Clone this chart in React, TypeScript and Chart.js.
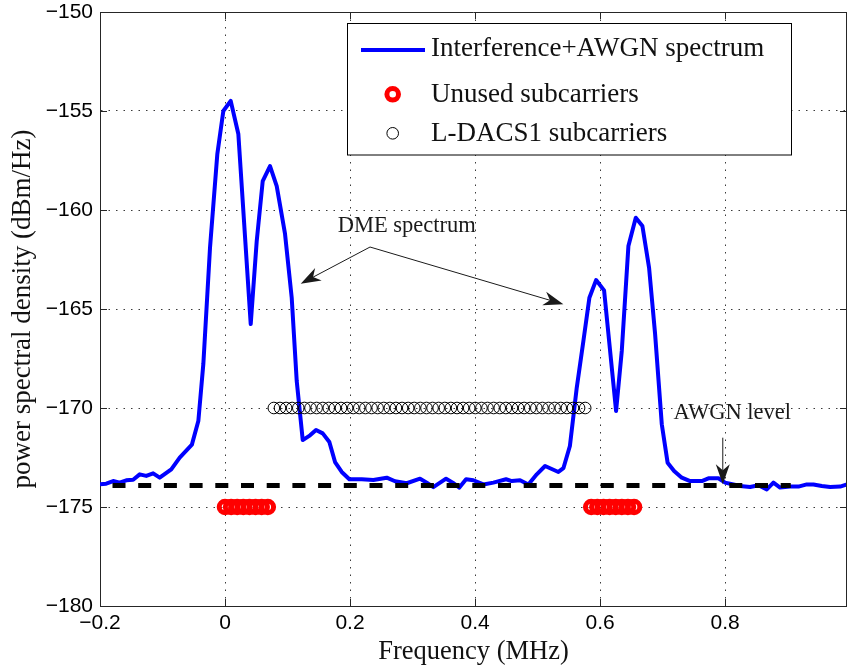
import React, { useEffect, useRef } from 'react';
import { Chart, registerables } from 'chart.js';

Chart.register(...registerables);

// ---- data ----
const freqMHz = [
  -0.2, -0.19, -0.179, -0.1685, -0.158, -0.147, -0.1365, -0.126, -0.115, -0.1045,
  -0.086, -0.0725, -0.053, -0.0427, -0.0347, -0.024, -0.0123, -0.0027, 0.0091, 0.0213,
  0.0411, 0.0507, 0.0603, 0.072, 0.0827, 0.096, 0.1067, 0.1147, 0.1243, 0.136,
  0.1456, 0.1563, 0.1669, 0.176, 0.1867, 0.1989, 0.2187, 0.2373, 0.2587, 0.272,
  0.2907, 0.312, 0.3227, 0.3333, 0.3536, 0.3643, 0.3749, 0.3856, 0.3973, 0.4133,
  0.4293, 0.4496, 0.4587, 0.472, 0.4853, 0.4987, 0.512, 0.5333, 0.5413, 0.5517,
  0.5627, 0.5733, 0.5829, 0.5936, 0.6064, 0.6256, 0.6347, 0.6453, 0.6571, 0.6677,
  0.6784, 0.688, 0.6987, 0.708, 0.7184, 0.7307, 0.744, 0.7627, 0.7733, 0.7893,
  0.8, 0.8133, 0.824, 0.84, 0.8533, 0.8667, 0.8773, 0.888, 0.904, 0.9173,
  0.9307, 0.9413, 0.9547, 0.968, 0.984, 0.995,
];
const psdDbmHz = [
  -173.85, -173.82, -173.69, -173.77, -173.65, -173.62, -173.35, -173.43, -173.3, -173.52,
  -173.1, -172.51, -171.85, -170.66, -167.78, -161.9, -157.17, -155.0, -154.49, -156.16,
  -165.76, -161.57, -158.54, -157.78, -158.79, -161.21, -164.44, -168.64, -171.62, -171.38,
  -171.11, -171.28, -171.72, -172.73, -173.23, -173.6, -173.6, -173.64, -173.52, -173.7,
  -173.8, -173.57, -173.77, -174.0, -173.57, -173.77, -174.02, -173.6, -173.65, -173.86,
  -173.77, -173.6, -173.69, -173.65, -173.86, -173.35, -172.93, -173.23, -173.04, -171.92,
  -168.97, -166.62, -164.43, -163.54, -164.06, -170.15, -167.12, -161.82, -160.39, -160.81,
  -162.92, -166.26, -170.82, -172.76, -173.18, -173.52, -173.69, -173.69, -173.55, -173.55,
  -173.77, -173.86, -173.94, -173.99, -173.9, -174.11, -173.77, -174.02, -173.97, -173.97,
  -173.86, -173.86, -173.94, -173.99, -173.97, -173.86,
];
const unusedFreq = [
  0, 0.0098, 0.0195, 0.0293, 0.0391, 0.0488, 0.0586, 0.0684,
  0.5859, 0.5957, 0.6055, 0.6152, 0.625, 0.6348, 0.6445, 0.6543,
];
const unusedLevel = -175;
const ldacsFreq = [
  0.0781, 0.0879, 0.0977, 0.1074, 0.1172, 0.127, 0.1367, 0.1465, 0.1563, 0.166,
  0.1758, 0.1855, 0.1953, 0.2051, 0.2148, 0.2246, 0.2344, 0.2441, 0.2539, 0.2637,
  0.2734, 0.2832, 0.293, 0.3027, 0.3125, 0.3223, 0.332, 0.3418, 0.3516, 0.3613,
  0.3711, 0.3809, 0.3906, 0.4004, 0.4102, 0.4199, 0.4297, 0.4395, 0.4492, 0.459,
  0.4688, 0.4785, 0.4883, 0.498, 0.5078, 0.5176, 0.5273, 0.5371, 0.5469, 0.5566,
  0.5664, 0.5762,
];
const ldacsLevel = -170;
const awgnFreq = [-0.18, 0.905];
const awgnLevel = [-173.92, -173.92];

const xTicks = [-0.2, 0, 0.2, 0.4, 0.6, 0.8];
const yTicks = [-180, -175, -170, -165, -160, -155, -150];

const legendLabels = ['Interference+AWGN spectrum', 'Unused subcarriers', 'L-DACS1 subcarriers'];
const xTitle = 'Frequency (MHz)';
const yTitle = 'power spectral density (dBm/Hz)';
const dmeText = 'DME spectrum';
const awgnText = 'AWGN level';

const BLUE = '#0000ff';
const RED = '#ff0000';
const SERIF = '"Liberation Serif", "Times New Roman", serif';
const SANS = '"Liberation Sans", Arial, sans-serif';

const fmt = (v: number) => {
  const s = Math.abs(v) < 1e-9 ? '0' : String(Number(v.toFixed(2)));
  return s.replace('-', '\u2212');
};

function drawArrow(ctx: CanvasRenderingContext2D, x0: number, y0: number, x1: number, y1: number) {
  const ang = Math.atan2(y1 - y0, x1 - x0);
  const L = 20, W = 7, N = 6;
  const c = Math.cos(ang), s = Math.sin(ang);
  ctx.beginPath();
  ctx.moveTo(x0, y0);
  ctx.lineTo(x1 - c * (L - N), y1 - s * (L - N));
  ctx.stroke();
  const bx = x1 - c * L, by = y1 - s * L;
  const nx = -s, ny = c;
  ctx.beginPath();
  ctx.moveTo(x1, y1);
  ctx.lineTo(bx + nx * W, by + ny * W);
  ctx.lineTo(x1 - c * (L - N), y1 - s * (L - N));
  ctx.lineTo(bx - nx * W, by - ny * W);
  ctx.closePath();
  ctx.fill();
}

const decorPlugin = {
  id: 'matlabDecor',
  afterDraw(chart: any) {
    const { ctx, chartArea: ca, scales } = chart;
    const x = scales.x, y = scales.y;
    ctx.save();
    // box (top / right)
    ctx.strokeStyle = '#262626';
    ctx.lineWidth = 1;
    ctx.beginPath();
    ctx.moveTo(ca.left, Math.round(ca.top) + 0.5);
    ctx.lineTo(ca.right, Math.round(ca.top) + 0.5);
    ctx.moveTo(Math.round(ca.right) - 0.5, ca.top);
    ctx.lineTo(Math.round(ca.right) - 0.5, ca.bottom);
    ctx.stroke();
    // inward ticks
    ctx.beginPath();
    for (const v of xTicks) {
      const px = Math.round(x.getPixelForValue(v)) + 0.5;
      ctx.moveTo(px, ca.bottom); ctx.lineTo(px, ca.bottom - 7);
      ctx.moveTo(px, ca.top); ctx.lineTo(px, ca.top + 7);
    }
    for (const v of yTicks) {
      const py = Math.round(y.getPixelForValue(v)) + 0.5;
      ctx.moveTo(ca.left, py); ctx.lineTo(ca.left + 7, py);
      ctx.moveTo(ca.right, py); ctx.lineTo(ca.right - 7, py);
    }
    ctx.stroke();

    // annotations
    ctx.fillStyle = '#1a1a1a';
    ctx.strokeStyle = '#1a1a1a';
    ctx.lineWidth = 1;
    ctx.font = `22.5px ${SERIF}`;
    ctx.textAlign = 'center';
    ctx.textBaseline = 'middle';
    ctx.fillText(dmeText, x.getPixelForValue(0.2907), y.getPixelForValue(-160.81));
    ctx.fillText(awgnText, x.getPixelForValue(0.8115), y.getPixelForValue(-170.24));
    const ox = x.getPixelForValue(0.232), oy = y.getPixelForValue(-161.87);
    drawArrow(ctx, ox, oy, x.getPixelForValue(0.1211), y.getPixelForValue(-163.72));
    drawArrow(ctx, ox, oy, x.getPixelForValue(0.5413), y.getPixelForValue(-164.76));
    drawArrow(ctx, x.getPixelForValue(0.7963), y.getPixelForValue(-171.5), x.getPixelForValue(0.7963), y.getPixelForValue(-173.85));

    // legend
    const lx = 347.5, ly = 23.5, lw = 444, lh = 131.5;
    ctx.fillStyle = '#ffffff';
    ctx.fillRect(lx, ly, lw, lh);
    ctx.strokeStyle = '#000000';
    ctx.lineWidth = 1;
    ctx.strokeRect(lx, ly, lw, lh);
    ctx.strokeStyle = BLUE;
    ctx.lineWidth = 4;
    ctx.beginPath();
    ctx.moveTo(361, 50); ctx.lineTo(425, 50);
    ctx.stroke();
    ctx.strokeStyle = RED;
    ctx.lineWidth = 5;
    ctx.beginPath();
    ctx.arc(392.7, 94.3, 5.8, 0, Math.PI * 2);
    ctx.stroke();
    ctx.strokeStyle = '#000000';
    ctx.lineWidth = 1;
    ctx.beginPath();
    ctx.arc(392.7, 133.3, 5.8, 0, Math.PI * 2);
    ctx.stroke();
    ctx.fillStyle = '#111111';
    ctx.font = `27px ${SERIF}`;
    ctx.textAlign = 'left';
    ctx.textBaseline = 'middle';
    ctx.fillText(legendLabels[0], 431, 49);
    ctx.fillText(legendLabels[1], 431, 95);
    ctx.fillText(legendLabels[2], 431, 134);
    ctx.restore();
  },
};

export default function App() {
  const ref = useRef<HTMLCanvasElement | null>(null);
  useEffect(() => {
    document.body.style.margin = '0';
    const canvas = ref.current;
    if (!canvas) return;
    const chart = new Chart(canvas, {
      type: 'scatter',
      data: {
        datasets: [
          {
            label: legendLabels[2],
            data: ldacsFreq.map((f) => ({ x: f, y: ldacsLevel })),
            showLine: false,
            pointRadius: 5.8,
            pointBorderWidth: 1,
            pointBorderColor: '#000000',
            pointBackgroundColor: 'rgba(0,0,0,0)',
            pointHoverRadius: 5.8,
          },
          {
            label: legendLabels[1],
            data: unusedFreq.map((f) => ({ x: f, y: unusedLevel })),
            showLine: false,
            pointRadius: 5.8,
            pointBorderWidth: 5,
            pointBorderColor: RED,
            pointBackgroundColor: 'rgba(0,0,0,0)',
            pointHoverRadius: 5.8,
          },
          {
            label: 'AWGN',
            data: awgnFreq.map((f, i) => ({ x: f, y: awgnLevel[i] })),
            showLine: true,
            borderColor: '#000000',
            borderWidth: 5,
            borderDash: [13, 12.7],
            pointRadius: 0,
          },
          {
            label: legendLabels[0],
            data: freqMHz.map((f, i) => ({ x: f, y: psdDbmHz[i] })),
            showLine: true,
            borderColor: BLUE,
            borderWidth: 4,
            pointRadius: 0,
            tension: 0,
            borderJoinStyle: 'round',
          },
        ],
      },
      options: {
        animation: false,
        responsive: false,
        devicePixelRatio: 1,
        layout: { autoPadding: false, padding: { top: 12, right: 0, bottom: 0, left: 0 } },
        plugins: { legend: { display: false }, tooltip: { enabled: false } },
        scales: {
          x: {
            type: 'linear',
            min: -0.2,
            max: 0.995,
            afterBuildTicks: (s: any) => { s.ticks = xTicks.map((v) => ({ value: v })); },
            afterFit: (s: any) => { s.height = 60; s.paddingLeft = 0; s.paddingRight = 0; },
            ticks: {
              callback: (v: any) => fmt(Number(v)),
              font: { family: SANS, size: 21 },
              color: '#000000',
              padding: 5,
              maxRotation: 0,
              autoSkip: false,
            },
            grid: { color: '#3a3a3a', lineWidth: 1, drawTicks: false },
            border: { display: true, color: '#262626', width: 1, dash: [1.5, 6] },
            title: {
              display: true,
              text: xTitle,
              font: { family: SERIF, size: 26.5, lineHeight: 1 },
              color: '#111111',
              padding: { top: 0, bottom: 1 },
            },
          },
          y: {
            type: 'linear',
            min: -180,
            max: -150,
            afterBuildTicks: (s: any) => { s.ticks = yTicks.map((v) => ({ value: v })); },
            afterFit: (s: any) => { s.width = 100; s.paddingTop = 0; s.paddingBottom = 0; },
            ticks: {
              callback: (v: any) => fmt(Number(v)),
              font: { family: SANS, size: 21 },
              color: '#000000',
              padding: 7,
              autoSkip: false,
            },
            grid: { color: '#3a3a3a', lineWidth: 1, drawTicks: false },
            border: { display: true, color: '#262626', width: 1, dash: [1.5, 6] },
            title: {
              display: true,
              text: yTitle,
              font: { family: SERIF, size: 27, lineHeight: 1 },
              color: '#111111',
              padding: { top: 9, bottom: 0 },
            },
          },
        },
      },
      plugins: [decorPlugin],
    });
    return () => chart.destroy();
  }, []);
  return (
    <div style={{ width: 847, height: 666 }}>
      <canvas ref={ref} width={847} height={666} style={{ display: 'block', width: 847, height: 666 }} />
    </div>
  );
}
